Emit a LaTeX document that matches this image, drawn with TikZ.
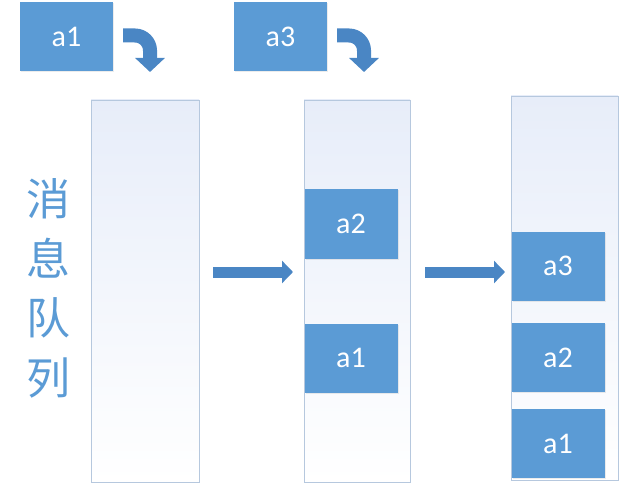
\documentclass[tikz,border=0pt]{standalone}
\usepackage{fontspec}
\setsansfont{Carlito}
\newfontfamily\cjk{Noto Sans CJK SC}
\usepackage{xcolor}
\usetikzlibrary{arrows.meta,shadows}

\definecolor{msgblue}{RGB}{91,155,213}
\definecolor{arrowblue}{RGB}{74,134,196}
\definecolor{colborder}{RGB}{182,200,222}
\definecolor{coltop}{RGB}{231,237,249}
\definecolor{colmid}{RGB}{244,246,252}

\tikzset{
	msg/.style={fill=msgblue, text=white, minimum width=93pt, minimum height=69pt,
		inner sep=0pt, font=\sffamily\fontsize{30}{30}\selectfont,
		drop shadow={opacity=0.15, shadow xshift=1pt, shadow yshift=-1pt}},
	queue/.style={draw=colborder, line width=0.9pt, top color=coltop, middle color=colmid,
		bottom color=white, inner sep=0pt},
	bigarrow/.style={arrowblue, line width=11pt, -{Triangle[width=22pt,length=11pt]}},
	bendarrow/.style={arrowblue, line width=14pt, -{Triangle[width=29pt,length=14pt]}}
}

\begin{document}
\begin{tikzpicture}[x=1pt,y=1pt]
		\useasboundingbox (0,0) rectangle (620,485);
		
		% the three queues
		\node[queue, minimum width=108pt, minimum height=382pt] (col1) at (145,194) {};
		\node[queue, minimum width=106pt, minimum height=382pt] (col2) at (357,194) {};
		\node[queue, minimum width=107pt, minimum height=384pt] (col3) at (564.5,197) {};
		
		% incoming messages
		\node[msg] (in1) at (66.5,448.5) {a1};
		\node[msg] (in3) at (280.5,448.5) {a3};
		
		\foreach \dx in {0,214}{
			\draw[bendarrow] (123+\dx,449.5) -- (135+\dx,449.5) arc (90:0:15) -- (150+\dx,413);
		}
		
		% messages in the queues
		\node[msg] (q2a2) at (351,261) {a2};
		\node[msg] (q2a1) at (351,127) {a1};
		\node[msg] (q3a3) at (558,219) {a3};
		\node[msg] (q3a2) at (558,127.5) {a2};
		\node[msg] (q3a1) at (558,41.5) {a1};
		
		% steps
		\coordinate (s1) at (213,213);
		\coordinate (e1) at (293,213);
		\coordinate (s2) at (425,213);
		\coordinate (e2) at (505,213);
		\draw[bigarrow] (s1) -- (e1);
		\draw[bigarrow] (s2) -- (e2);
		
		% vertical label
		\foreach \c [count=\i] in {消,息,队,列}{
			\node[text=msgblue, font=\cjk\fontsize{44}{44}\selectfont] (lbl\i) at (48,{286-59.5*(\i-1)}) {\c};
		}
	\end{tikzpicture}
\end{document}
